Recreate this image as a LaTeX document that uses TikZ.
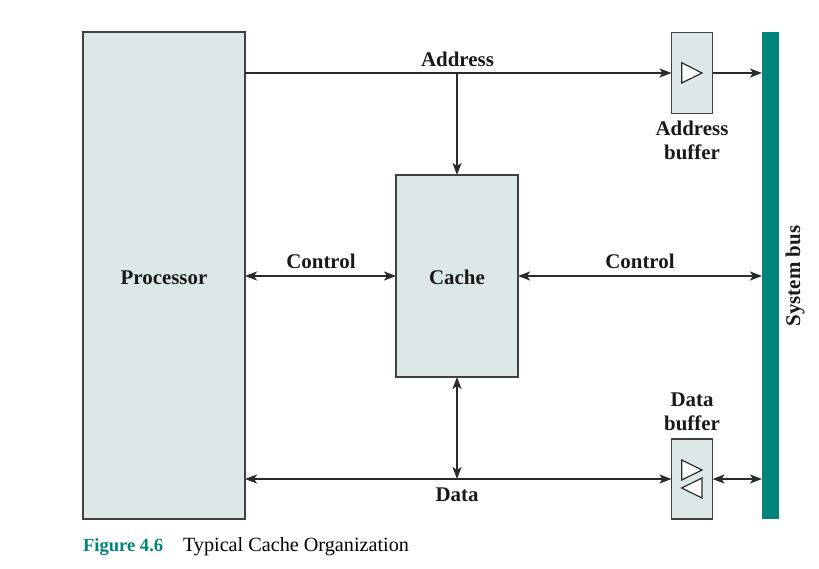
\documentclass[tikz,border=0pt]{standalone}
\usepackage{fontspec}
\setmainfont{Liberation Serif}
\usetikzlibrary{arrows.meta,calc}
\definecolor{boxfill}{HTML}{DCE8E7}
\definecolor{busteal}{HTML}{00837A}
\definecolor{linegray}{HTML}{2B2B2B}
\tikzset{
  every node/.style={inner sep=0pt,outer sep=0pt},
  block/.style={draw=linegray!90,line width=1.05pt,fill=boxfill,minimum width=#1,anchor=north west},
  lbl/.style={font=\fontsize{20.9}{24}\selectfont\bfseries,text=black!90,anchor=base},
  conn/.style={draw=linegray,line width=1.9pt},
  tip/.style={-{Stealth[length=12pt,width=9pt,inset=3pt]}},
  twotip/.style={{Stealth[length=12pt,width=9pt,inset=3pt]}-{Stealth[length=12pt,width=9pt,inset=3pt]}},
  tri/.style={draw=linegray,line width=1.2pt,fill=white,line join=miter},
}
\begin{document}
\begin{tikzpicture}[x=1pt,y=-1pt]
\useasboundingbox (0,0) rectangle (819,568);
\node[block=162pt,minimum height=487pt] (proc) at (83,32) {};
\node[block=122pt,minimum height=202pt] (cache) at (396,175) {};
\node[block=41pt,minimum height=81pt] (abuf) at (671.5,32.5) {};
\node[block=41pt,minimum height=80pt] (dbuf) at (671.5,439) {};
\node[fill=busteal,minimum width=17pt,minimum height=487pt,anchor=north west] (bus) at (762,32) {};
% triangles
\draw[tri] (681.7,62.7) -- (702,73) -- (681.7,83) -- cycle;
\draw[tri] (681.7,460) -- (702,470) -- (681.7,480) -- cycle;
\draw[tri] (702,478) -- (681.7,488) -- (702,498) -- cycle;
% connectors
\coordinate (ajunc) at (cache.north |- abuf.west);
\draw[conn,tip] (proc.east |- abuf.west) -- (abuf.west);
\draw[conn,tip] (abuf.east) -- (bus.west |- abuf.east);
\draw[conn,tip] (ajunc) -- (cache.north);
\draw[conn,twotip] (proc.east |- cache.west) -- (cache.west);
\draw[conn,twotip] (cache.east) -- (bus.west |- cache.east);
\draw[conn,twotip] (proc.east |- dbuf.west) -- (dbuf.west);
\draw[conn,twotip] (dbuf.east) -- (bus.west |- dbuf.east);
\draw[conn,twotip] (cache.south) -- (cache.south |- dbuf.west);
% labels
\node[lbl] (t1) at (457.5,66) {Address};
\node[lbl] (t2) at (692,135.5) {Address};
\node[lbl] (t3) at (692,159.5) {buffer};
\node[lbl] (t4) at (164,284) {Processor};
\node[lbl] (t5) at (321,268) {Control};
\node[lbl] (t6) at (457,284) {Cache};
\node[lbl] (t7) at (640,268) {Control};
\node[lbl] (t8) at (692,406) {Data};
\node[lbl] (t9) at (692,430) {buffer};
\node[lbl] (t10) at (457,501) {Data};
\node[lbl,rotate=90] (t11) at (800,276) {System bus};
\node[font=\fontsize{18.6}{22}\selectfont\bfseries,text=busteal,anchor=base west] (fig) at (83,551) {Figure 4.6};
\node[font=\fontsize{20.2}{23}\selectfont,text=black,anchor=base west] (cap) at (183,551) {Typical Cache Organization};
\end{tikzpicture}
\end{document}
